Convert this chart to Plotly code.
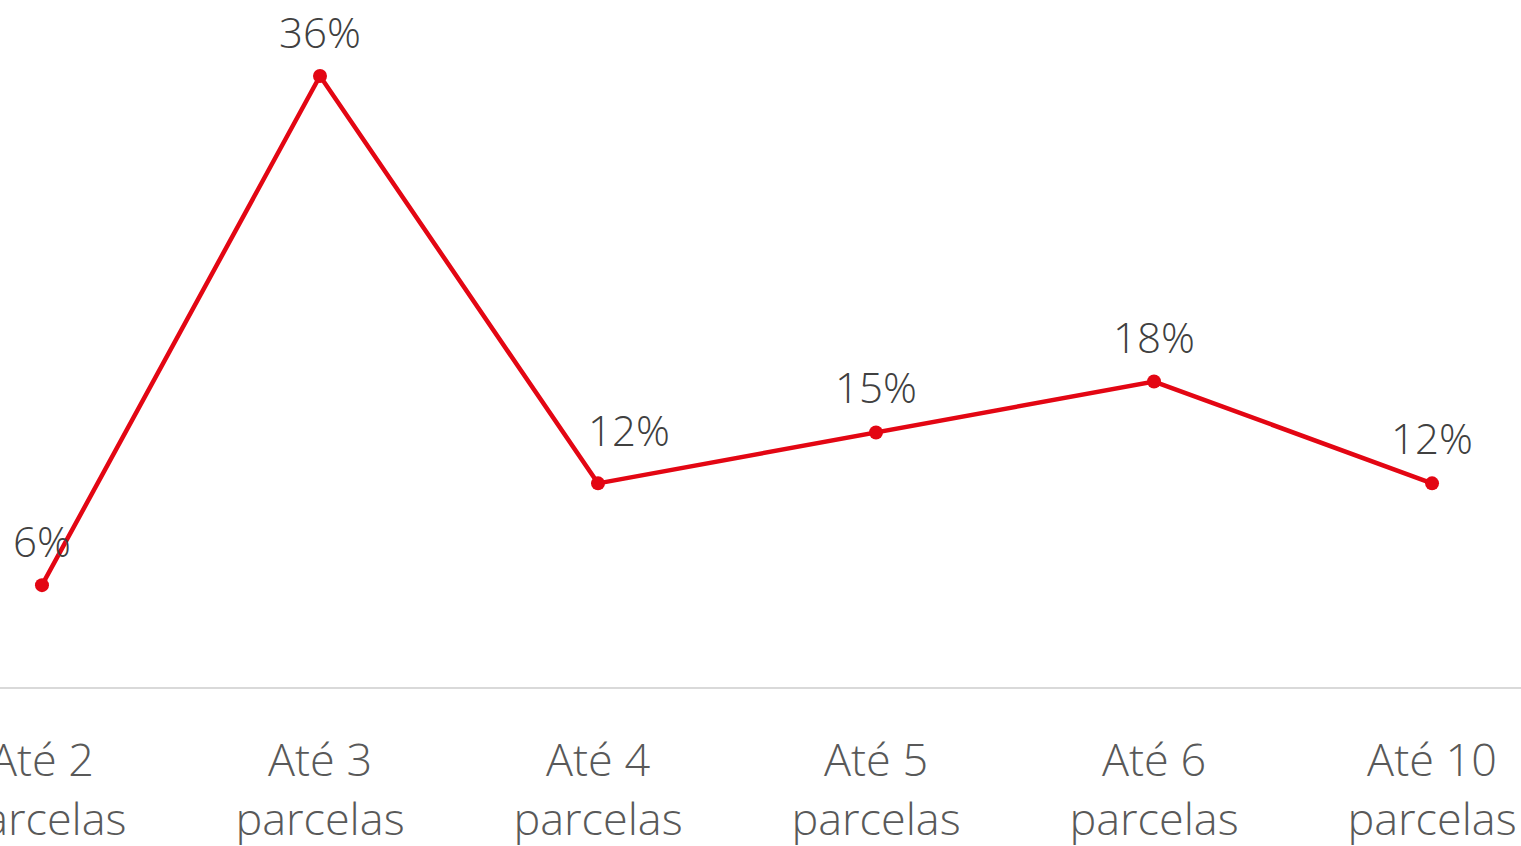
import plotly.graph_objects as go

categorias = ["Até 2<br>parcelas", "Até 3<br>parcelas", "Até 4<br>parcelas",
              "Até 5<br>parcelas", "Até 6<br>parcelas", "Até 10<br>parcelas"]
percentuais = [6, 36, 12, 15, 18, 12]
# deslocamento manual dos rótulos (px): o primeiro 12% fica à direita
desloc_x = [0, 0, 31, 0, 0, 0]
desloc_y = [45, 45, 54, 46, 45, 46]

vermelho = "#e30613"

fig = go.Figure()
fig.add_trace(go.Scatter(
    x=categorias,
    y=percentuais,
    mode="lines+markers",
    line=dict(color=vermelho, width=4.5),
    marker=dict(color=vermelho, size=14),
    cliponaxis=False,
    hoverinfo="skip",
))

for cat, v, dx, dy in zip(categorias, percentuais, desloc_x, desloc_y):
    fig.add_annotation(
        x=cat, y=v, text=f"{v}%", showarrow=False,
        xshift=dx, yshift=dy, xanchor="center", yanchor="middle",
        font=dict(family="Open Sans", size=42, color="#404040", weight=300),
    )

fig.update_layout(
    width=1521, height=846,
    margin=dict(l=0, r=0, t=0, b=159),
    plot_bgcolor="white", paper_bgcolor="white",
    showlegend=False,
    font=dict(family="Open Sans", color="#595959"),
)
fig.update_xaxes(
    type="category",
    range=[-0.151, 5.32],
    showgrid=False, zeroline=False,
    showline=True, linecolor="#d9d9d9", linewidth=2,
    ticks="", ticklabelstandoff=33,
    tickfont=dict(family="Open Sans", size=45, color="#595959", weight=300),
    automargin=False,
)
fig.update_yaxes(
    range=[0, 40.48],
    showgrid=False, zeroline=False, showticklabels=False,
    automargin=False,
)

fig.write_html("out.html", config={"displayModeBar": False},
               post_script="document.body.style.margin='0';")
